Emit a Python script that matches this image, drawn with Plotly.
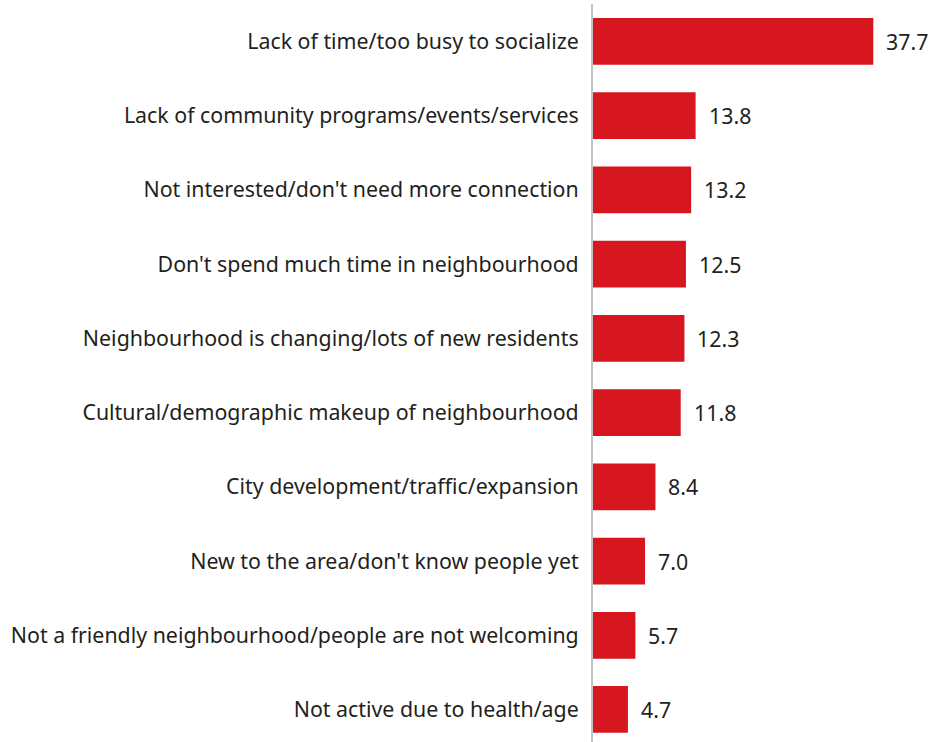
import plotly.graph_objects as go

reasons = [
    "Lack of time/too busy to socialize",
    "Lack of community programs/events/services",
    "Not interested/don't need more connection",
    "Don't spend much time in neighbourhood",
    "Neighbourhood is changing/lots of new residents",
    "Cultural/demographic makeup of neighbourhood",
    "City development/traffic/expansion",
    "New to the area/don't know people yet",
    "Not a friendly neighbourhood/people are not welcoming",
    "Not active due to health/age",
]
percent = [37.7, 13.8, 13.2, 12.5, 12.3, 11.8, 8.4, 7.0, 5.7, 4.7]

BAR_RED = "#D7171F"
TEXT = "#231F20"
FONT = "Noto Sans"
SIZE = 21.35

fig = go.Figure(
    go.Bar(
        x=percent,
        y=reasons,
        orientation="h",
        marker=dict(color=BAR_RED, line=dict(width=0)),
        width=0.63,
        hoverinfo="skip",
    )
)

# value labels to the right of each bar
for r, v in zip(reasons, percent):
    fig.add_annotation(
        x=v, y=r, text=f"{v:.1f}", showarrow=False,
        xanchor="left", yanchor="middle", xshift=11,
        font=dict(family=FONT, size=SIZE, color=TEXT),
    )

fig.update_layout(
    width=935, height=742,
    margin=dict(l=593, r=0, t=4, b=0),
    paper_bgcolor="white", plot_bgcolor="white",
    showlegend=False,
    font=dict(family=FONT, size=SIZE, color=TEXT),
    bargap=0.37,
)
fig.update_xaxes(range=[0, 46], visible=False, fixedrange=True)
fig.update_yaxes(
    type="category",
    categoryorder="array", categoryarray=reasons,
    range=[9.438, -0.505],
    showline=True, linecolor="#C4C4C4", linewidth=2,
    showgrid=False, zeroline=False,
    ticks="", ticklabelstandoff=8,
    tickfont=dict(family=FONT, size=SIZE, color=TEXT),
)

fig.write_html("out.html")
